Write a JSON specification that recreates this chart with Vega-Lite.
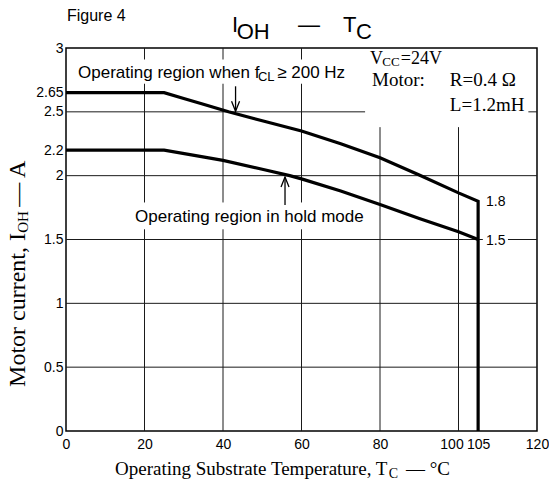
{
  "$schema": "https://vega.github.io/schema/vega-lite/v6.json",
  "width": 471,
  "height": 383,
  "autosize": {"type": "none"},
  "padding": {"left": 66, "top": 48, "right": 12, "bottom": 49},
  "background": "white",
  "config": {
    "view": {"stroke": "black", "strokeWidth": 1.5},
    "axis": {"domain": false, "ticks": false, "grid": false, "labelFont": "Liberation Sans", "labelFontSize": 14, "labelColor": "black"}
  },
  "resolve": {"axis": {"x": "independent", "y": "independent"}},
  "datasets": {
    "vgrid": [
      {"x": 20, "y0": 0, "y1": 1.58}, {"x": 20, "y0": 1.79, "y1": 2.72}, {"x": 20, "y0": 2.91, "y1": 3},
      {"x": 40, "y0": 0, "y1": 1.58}, {"x": 40, "y0": 1.79, "y1": 2.72}, {"x": 40, "y0": 2.91, "y1": 3},
      {"x": 60, "y0": 0, "y1": 1.58}, {"x": 60, "y0": 1.79, "y1": 2.72}, {"x": 60, "y0": 2.91, "y1": 3},
      {"x": 80, "y0": 0, "y1": 2.38},
      {"x": 100, "y0": 0, "y1": 2.38}
    ],
    "hgrid": [
      {"y": 0.5, "x0": 0, "x1": 120},
      {"y": 1, "x0": 0, "x1": 120},
      {"y": 1.5, "x0": 0, "x1": 106.2}, {"y": 1.5, "x0": 112.6, "x1": 120},
      {"y": 2, "x0": 0, "x1": 120},
      {"y": 2.5, "x0": 0, "x1": 76.2}, {"y": 2.5, "x0": 117.8, "x1": 120}
    ],
    "curves": [
      {"series": "upper", "k": 1, "t": 0, "i": 2.65},
      {"series": "upper", "k": 2, "t": 25, "i": 2.65},
      {"series": "upper", "k": 3, "t": 30, "i": 2.605},
      {"series": "upper", "k": 4, "t": 35, "i": 2.56},
      {"series": "upper", "k": 5, "t": 41.4, "i": 2.5},
      {"series": "upper", "k": 6, "t": 50, "i": 2.43},
      {"series": "upper", "k": 7, "t": 60, "i": 2.35},
      {"series": "upper", "k": 8, "t": 70, "i": 2.25},
      {"series": "upper", "k": 9, "t": 80, "i": 2.14},
      {"series": "upper", "k": 10, "t": 90, "i": 2.005},
      {"series": "upper", "k": 11, "t": 100, "i": 1.865},
      {"series": "upper", "k": 12, "t": 105, "i": 1.8},
      {"series": "upper", "k": 13, "t": 105, "i": 0},
      {"series": "lower", "k": 1, "t": 0, "i": 2.2},
      {"series": "lower", "k": 2, "t": 25, "i": 2.2},
      {"series": "lower", "k": 3, "t": 31.6, "i": 2.165},
      {"series": "lower", "k": 4, "t": 40, "i": 2.12},
      {"series": "lower", "k": 5, "t": 50, "i": 2.05},
      {"series": "lower", "k": 6, "t": 57, "i": 2.0},
      {"series": "lower", "k": 7, "t": 60, "i": 1.975},
      {"series": "lower", "k": 8, "t": 70, "i": 1.88},
      {"series": "lower", "k": 9, "t": 80, "i": 1.775},
      {"series": "lower", "k": 10, "t": 90, "i": 1.665},
      {"series": "lower", "k": 11, "t": 100, "i": 1.56},
      {"series": "lower", "k": 12, "t": 105, "i": 1.5}
    ],
    "arrows": [
      {"x": 43.2, "y0": 2.70, "y1": 2.505, "dir": "down"},
      {"x": 55.8, "y0": 1.77, "y1": 1.99, "dir": "up"}
    ],
    "texts": [
      {"role": "sans17", "tx": 3.06, "ty": 2.766, "text": "Operating region when f"},
      {"role": "sans17", "tx": 53.8, "ty": 2.766, "text": "≥ 200 Hz"},
      {"role": "sans17", "tx": 17.58, "ty": 1.639, "text": "Operating region in hold mode"},
      {"role": "sans13", "tx": 48.9, "ty": 2.74, "text": "CL"},
      {"role": "sans22", "tx": 42.3, "ty": 3.122, "text": "I"},
      {"role": "sans22", "tx": 43.5, "ty": 3.067, "text": "OH"},
      {"role": "sans22", "tx": 59.1, "ty": 3.122, "text": "—"},
      {"role": "sans22", "tx": 70.6, "ty": 3.122, "text": "T"},
      {"role": "sans22", "tx": 73.9, "ty": 3.067, "text": "C"},
      {"role": "sans16", "tx": 0.25, "ty": 3.21, "text": "Figure 4"},
      {"role": "sans14", "tx": 107, "ty": 1.76, "text": "1.8"},
      {"role": "sans14", "tx": 107, "ty": 1.459, "text": "1.5"},
      {"role": "serif19", "tx": 77.96, "ty": 2.70, "text": "Motor:"},
      {"role": "serif19", "tx": 97.8, "ty": 2.70, "text": "R=0.4 Ω"},
      {"role": "serif19", "tx": 97.8, "ty": 2.51, "text": "L=1.2mH"},
      {"role": "serif19", "tx": 12.5, "ty": -0.345, "text": "Operating Substrate Temperature, T"},
      {"role": "serif19", "tx": 86.6, "ty": -0.345, "text": "— °C"},
      {"role": "serif18", "tx": 77.45, "ty": 2.875, "text": "V"},
      {"role": "serif18", "tx": 85.3, "ty": 2.875, "text": "=24V"},
      {"role": "serif13", "tx": 80.6, "ty": 2.857, "text": "CC"},
      {"role": "serif14", "tx": 82.2, "ty": -0.369, "text": "C"},
      {"role": "yt24", "tx": -10.45, "ty": 0.345, "text": "Motor current, I"},
      {"role": "yt24", "tx": -10.45, "ty": 1.757, "text": "— A"},
      {"role": "yt15", "tx": -9.68, "ty": 1.553, "text": "OH"}
    ]
  },
  "layer": [
    {
      "data": {"name": "vgrid"},
      "mark": {"type": "rule", "stroke": "#1a1a1a", "strokeWidth": 1},
      "encoding": {
        "x": {"field": "x", "type": "quantitative", "scale": {"domain": [0, 120], "nice": false, "zero": false},
              "axis": {"values": [0, 20, 40, 60, 80, 100, 105, 120], "labelExpr": "'' + datum.value", "title": null, "labelFlush": false, "labelOverlap": false, "labelPadding": 6,
                       "labelOffset": {"condition": {"test": "datum.value == 100", "value": -7}, "value": 0}}},
        "y": {"field": "y0", "type": "quantitative", "scale": {"domain": [0, 3], "nice": false, "zero": false},
              "axis": {"values": [0, 0.5, 1, 1.5, 2, 2.2, 2.5, 2.65, 3], "labelExpr": "'' + datum.value", "title": null, "labelOverlap": false, "labelFlush": false, "labelPadding": 3}},
        "y2": {"field": "y1"}
      }
    },
    {
      "data": {"name": "hgrid"},
      "mark": {"type": "rule", "stroke": "#1a1a1a", "strokeWidth": 1},
      "encoding": {
        "y": {"field": "y", "type": "quantitative", "axis": null},
        "x": {"field": "x0", "type": "quantitative", "axis": null},
        "x2": {"field": "x1"}
      }
    },
    {
      "data": {"name": "curves"},
      "mark": {"type": "line", "stroke": "black", "strokeWidth": 3.2, "strokeJoin": "miter"},
      "encoding": {
        "x": {"field": "t", "type": "quantitative", "axis": null},
        "y": {"field": "i", "type": "quantitative", "axis": null},
        "detail": {"field": "series"},
        "order": {"field": "k", "type": "quantitative"}
      }
    },
    {
      "data": {"name": "arrows"},
      "mark": {"type": "rule", "stroke": "black", "strokeWidth": 1.3},
      "encoding": {
        "x": {"field": "x", "type": "quantitative", "axis": null},
        "y": {"field": "y0", "type": "quantitative", "axis": null},
        "y2": {"field": "y1"}
      }
    },
    {
      "data": {"name": "arrows"},
      "mark": {"type": "point", "filled": false, "stroke": "black", "strokeWidth": 1.3, "opacity": 1, "size": 400},
      "encoding": {
        "x": {"field": "x", "type": "quantitative", "axis": null},
        "y": {"field": "y1", "type": "quantitative", "axis": null},
        "shape": {"field": "dir", "type": "nominal", "legend": null,
                  "scale": {"domain": ["down", "up"], "range": ["M-0.4,-1L0,0L0.4,-1", "M-0.4,1L0,0L0.4,1"]}}
      }
    },
    {
      "data": {"name": "texts"},
      "transform": [{"filter": "datum.role == 'sans17'"}],
      "mark": {"type": "text", "font": "Liberation Sans", "fontSize": 17, "align": "left", "baseline": "alphabetic", "fill": "black"},
      "encoding": {"x": {"field": "tx", "type": "quantitative", "axis": null}, "y": {"field": "ty", "type": "quantitative", "axis": null}, "text": {"field": "text"}}
    },
    {
      "data": {"name": "texts"},
      "transform": [{"filter": "datum.role == 'sans13'"}],
      "mark": {"type": "text", "font": "Liberation Sans", "fontSize": 13, "align": "left", "baseline": "alphabetic", "fill": "black"},
      "encoding": {"x": {"field": "tx", "type": "quantitative", "axis": null}, "y": {"field": "ty", "type": "quantitative", "axis": null}, "text": {"field": "text"}}
    },
    {
      "data": {"name": "texts"},
      "transform": [{"filter": "datum.role == 'sans22'"}],
      "mark": {"type": "text", "font": "Liberation Sans", "fontSize": 22, "align": "left", "baseline": "alphabetic", "fill": "black"},
      "encoding": {"x": {"field": "tx", "type": "quantitative", "axis": null}, "y": {"field": "ty", "type": "quantitative", "axis": null}, "text": {"field": "text"}}
    },
    {
      "data": {"name": "texts"},
      "transform": [{"filter": "datum.role == 'sans16'"}],
      "mark": {"type": "text", "font": "Liberation Sans", "fontSize": 16, "align": "left", "baseline": "alphabetic", "fill": "black"},
      "encoding": {"x": {"field": "tx", "type": "quantitative", "axis": null}, "y": {"field": "ty", "type": "quantitative", "axis": null}, "text": {"field": "text"}}
    },
    {
      "data": {"name": "texts"},
      "transform": [{"filter": "datum.role == 'sans14'"}],
      "mark": {"type": "text", "font": "Liberation Sans", "fontSize": 14, "align": "left", "baseline": "alphabetic", "fill": "black"},
      "encoding": {"x": {"field": "tx", "type": "quantitative", "axis": null}, "y": {"field": "ty", "type": "quantitative", "axis": null}, "text": {"field": "text"}}
    },
    {
      "data": {"name": "texts"},
      "transform": [{"filter": "datum.role == 'serif19'"}],
      "mark": {"type": "text", "font": "Liberation Serif", "fontSize": 19, "align": "left", "baseline": "alphabetic", "fill": "black"},
      "encoding": {"x": {"field": "tx", "type": "quantitative", "axis": null}, "y": {"field": "ty", "type": "quantitative", "axis": null}, "text": {"field": "text"}}
    },
    {
      "data": {"name": "texts"},
      "transform": [{"filter": "datum.role == 'serif18'"}],
      "mark": {"type": "text", "font": "Liberation Serif", "fontSize": 18, "align": "left", "baseline": "alphabetic", "fill": "black"},
      "encoding": {"x": {"field": "tx", "type": "quantitative", "axis": null}, "y": {"field": "ty", "type": "quantitative", "axis": null}, "text": {"field": "text"}}
    },
    {
      "data": {"name": "texts"},
      "transform": [{"filter": "datum.role == 'serif14'"}],
      "mark": {"type": "text", "font": "Liberation Serif", "fontSize": 14, "align": "left", "baseline": "alphabetic", "fill": "black"},
      "encoding": {"x": {"field": "tx", "type": "quantitative", "axis": null}, "y": {"field": "ty", "type": "quantitative", "axis": null}, "text": {"field": "text"}}
    },
    {
      "data": {"name": "texts"},
      "transform": [{"filter": "datum.role == 'serif13'"}],
      "mark": {"type": "text", "font": "Liberation Serif", "fontSize": 13, "align": "left", "baseline": "alphabetic", "fill": "black"},
      "encoding": {"x": {"field": "tx", "type": "quantitative", "axis": null}, "y": {"field": "ty", "type": "quantitative", "axis": null}, "text": {"field": "text"}}
    },
    {
      "data": {"name": "texts"},
      "transform": [{"filter": "datum.role == 'yt24'"}],
      "mark": {"type": "text", "font": "Liberation Serif", "fontSize": 24, "align": "left", "baseline": "alphabetic", "angle": 270, "fill": "black"},
      "encoding": {"x": {"field": "tx", "type": "quantitative", "axis": null}, "y": {"field": "ty", "type": "quantitative", "axis": null}, "text": {"field": "text"}}
    },
    {
      "data": {"name": "texts"},
      "transform": [{"filter": "datum.role == 'yt15'"}],
      "mark": {"type": "text", "font": "Liberation Serif", "fontSize": 15, "align": "left", "baseline": "alphabetic", "angle": 270, "fill": "black"},
      "encoding": {"x": {"field": "tx", "type": "quantitative", "axis": null}, "y": {"field": "ty", "type": "quantitative", "axis": null}, "text": {"field": "text"}}
    }
  ]
}
